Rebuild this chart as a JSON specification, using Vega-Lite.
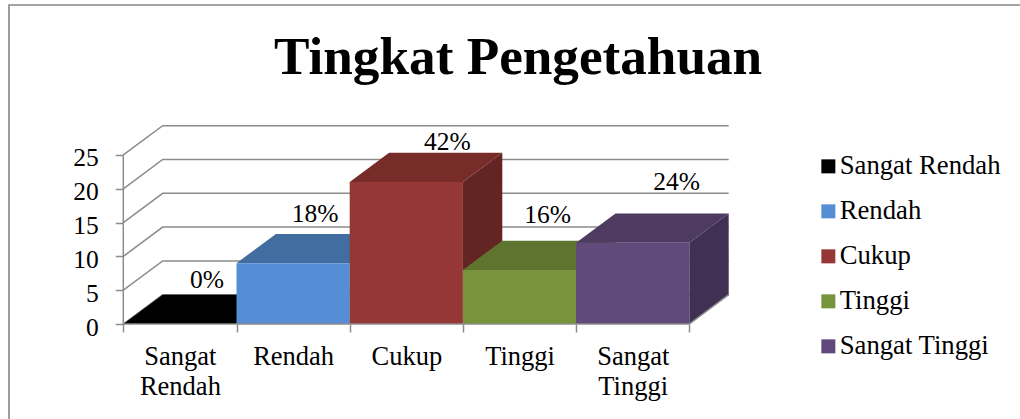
{
"$schema":"https://vega.github.io/schema/vega-lite/v6.json",
"width":1014,"height":417,"padding":{"left":9,"top":5,"right":0,"bottom":0},"autosize":{"type":"none"},
"background":"white",
"config":{"view":{"stroke":"#868686","strokeWidth":1.6},"font":"Liberation Serif"},
"title":{"text":"Tingkat Pengetahuan","font":"Liberation Serif","fontSize":53.2,"fontWeight":"bold","color":"#000000","anchor":"start","frame":"group","baseline":"alphabetic","offset":-70,"dx":265,"dy":52},
"datasets":{
"bars":[
{"label":"Sangat Rendah","order":0,"value":0,"share":"0%"},
{"label":"Rendah","order":1,"value":9,"share":"18%"},
{"label":"Cukup","order":2,"value":21,"share":"42%"},
{"label":"Tinggi","order":3,"value":8,"share":"16%"},
{"label":"Sangat Tinggi","order":4,"value":12,"share":"24%"}],
"grid":[{"tick":0},{"tick":5},{"tick":10},{"tick":15},{"tick":20},{"tick":25}],
"frame":[
{"part":"floor","at":0,"level":0},{"part":"floor","at":5,"level":0},{"part":"floor","at":5.348,"level":4.33},
{"part":"wall","at":0,"level":0},{"part":"wall","at":0,"level":25}]
},
"layer":[
{"data":{"name":"grid"},
"transform":[{"calculate":"[0,0.348,5.348]","as":"px"},{"calculate":"[datum.tick,datum.tick+4.33,datum.tick+4.33]","as":"py"},{"flatten":["px","py"]}],
"mark":{"type":"line","stroke":"#8c8c8c","strokeWidth":1.5},
"encoding":{
"x":{"field":"px","type":"quantitative","scale":{"domain":[0,5.348],"range":[114.3,719.7]},
 "axis":{"title":null,"domain":false,"grid":false,"orient":"bottom","offset":-98,"values":[0,0.5,1,1.5,2,2.5,3,3.5,4,4.5,5],
  "tickSize":8,"tickWidth":1.5,"tickColor":{"condition":{"test":"floor(datum.value)==datum.value","value":"#8c8c8c"},"value":"transparent"},
  "labelExpr":"floor(datum.value)==datum.value ? '' : split(['Sangat Rendah','Rendah','Cukup','Tinggi','Sangat Tinggi'][floor(datum.value)],' ')",
  "labelFont":"Liberation Serif","labelFontSize":26.5,"labelColor":"#000000","labelPadding":11,"labelLineHeight":30,"labelAngle":0,"labelOverlap":false,"labelFlush":false,"labelBound":false}},
"y":{"field":"py","type":"quantitative","scale":{"domain":[0,29.33],"range":[319,120.7]},
 "axis":{"title":null,"domain":false,"grid":false,"orient":"left","offset":-114.3,"values":[0,5,10,15,20,25],
  "tickSize":8,"tickWidth":1.5,"tickColor":"#8c8c8c","labelFont":"Liberation Serif","labelFontSize":25.5,"labelColor":"#000000","labelPadding":17,"labelOffset":3,"labelOverlap":false,"labelBound":false}},
"detail":{"field":"tick"}}},
{"data":{"name":"bars"},
"transform":[{"calculate":"[datum.order+1,datum.order+1.348]","as":"px"},{"calculate":"[datum.value,datum.value+4.33]","as":"high"},{"calculate":"[0,4.33]","as":"low"},{"flatten":["px","high","low"]}],
"mark":{"type":"area","orient":"vertical"},
"encoding":{
"x":{"field":"px","type":"quantitative","scale":{"domain":[0,5.348],"range":[114.3,719.7]}},
"y":{"field":"high","type":"quantitative","stack":false,"scale":{"domain":[0,29.33],"range":[319,120.7]}},
"y2":{"field":"low"},
"color":{"field":"label","type":"nominal","legend":null,"scale":{"domain":["Sangat Rendah","Rendah","Cukup","Tinggi","Sangat Tinggi"],"range":["#000000","#376092","#632523","#4F6228","#403152"]}}}},
{"data":{"name":"bars"},
"transform":[{"calculate":"[datum.order,datum.order+0.348,datum.order+1,datum.order+1.348]","as":"px"},{"calculate":"[datum.value,datum.value+4.33,datum.value+4.33,datum.value+4.33]","as":"high"},{"calculate":"[datum.value,datum.value,datum.value,datum.value+4.33]","as":"low"},{"flatten":["px","high","low"]}],
"mark":{"type":"area","orient":"vertical"},
"encoding":{
"x":{"field":"px","type":"quantitative","scale":{"domain":[0,5.348],"range":[114.3,719.7]}},
"y":{"field":"high","type":"quantitative","stack":false,"scale":{"domain":[0,29.33],"range":[319,120.7]}},
"y2":{"field":"low"},
"color":{"field":"label","type":"nominal","legend":null,"scale":{"domain":["Sangat Rendah","Rendah","Cukup","Tinggi","Sangat Tinggi"],"range":["#000000","#426DA0","#772C2A","#5F752F","#4D3B62"]}}}},
{"data":{"name":"bars"},
"transform":[{"calculate":"datum.order+1","as":"end"}],
"mark":{"type":"rect"},
"encoding":{
"x":{"field":"order","type":"quantitative","scale":{"domain":[0,5.348],"range":[114.3,719.7]}},
"x2":{"field":"end"},
"y":{"field":"value","type":"quantitative","stack":false,"scale":{"domain":[0,29.33],"range":[319,120.7]}},
"y2":{"datum":0},
"color":{"field":"label","type":"nominal","title":null,
 "scale":{"domain":["Sangat Rendah","Rendah","Cukup","Tinggi","Sangat Tinggi"],"range":["#000000","#558ED5","#953735","#77933C","#604A7B"]},
 "legend":{"orient":"none","legendX":806,"legendY":148,"symbolType":"square","symbolSize":196,"symbolStrokeWidth":0,"symbolOpacity":1,"labelFont":"Liberation Serif","labelFontSize":26.7,"labelColor":"#000000","labelOffset":-2,"rowPadding":17,"padding":0,"labelLimit":300}}}},
{"data":{"name":"frame"},
"mark":{"type":"line","stroke":"#8c8c8c","strokeWidth":1.5},
"encoding":{
"x":{"field":"at","type":"quantitative","scale":{"domain":[0,5.348],"range":[114.3,719.7]}},
"y":{"field":"level","type":"quantitative","scale":{"domain":[0,29.33],"range":[319,120.7]}},
"detail":{"field":"part"}}},
{"data":{"name":"bars"},
"transform":[{"calculate":"datum.order+0.5+[27,22,41,28,44][datum.order]/113.2","as":"lx"},{"calculate":"datum.value+4.33+[7,12,3,18,24][datum.order]/6.76","as":"ly"}],
"mark":{"type":"text","font":"Liberation Serif","fontSize":25.5,"color":"#000000","align":"center","baseline":"alphabetic"},
"encoding":{
"x":{"field":"lx","type":"quantitative","scale":{"domain":[0,5.348],"range":[114.3,719.7]}},
"y":{"field":"ly","type":"quantitative","scale":{"domain":[0,29.33],"range":[319,120.7]}},
"text":{"field":"share"}}}
],
"resolve":{"scale":{"color":"independent"}}
}
